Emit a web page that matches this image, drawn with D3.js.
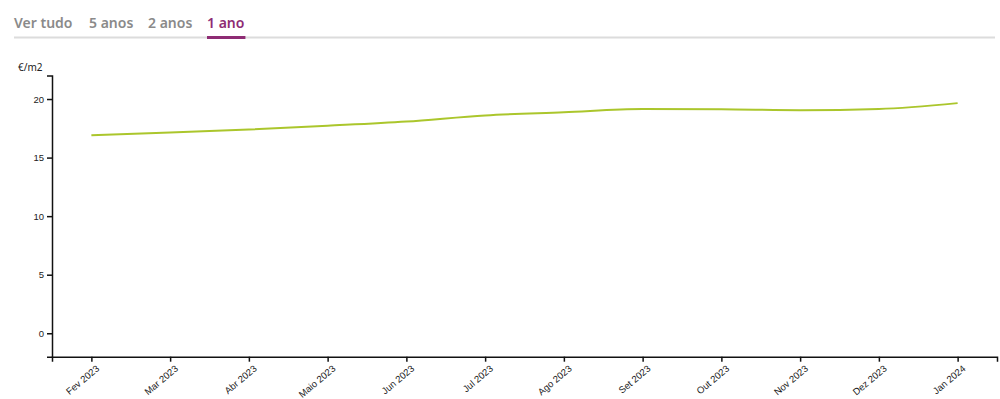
<!DOCTYPE html>
<html>
<head>
<meta charset="utf-8">
<script src="https://cdn.jsdelivr.net/npm/d3@7"></script>
<style>
  body { margin: 0; background: #fff; font-family: "Noto Sans", "Open Sans", sans-serif; }
  .tab { font-weight: 600; font-size: 14px; fill: #8a8a8a; }
  .tab.active { fill: #8e2c74; }
  .axis text { font-size: 9.5px; fill: #222; }
  .axis path, .axis line { stroke: #111; stroke-width: 1.5; }
</style>
</head>
<body>
<div id="chart"></div>
<script>
var tabs = ["Ver tudo", "5 anos", "2 anos", "1 ano"]
var months = ["Fev 2023", "Mar 2023", "Abr 2023", "Maio 2023", "Jun 2023", "Jul 2023",
  "Ago 2023", "Set 2023", "Out 2023", "Nov 2023", "Dez 2023", "Jan 2024"]
var prices = [16.9, 17.15, 17.4, 17.72, 18.08, 18.6, 18.87, 19.14, 19.12, 19.05, 19.15, 19.65]
var yTicks = [0, 5, 10, 15, 20]

var width = 1000
var height = 399

var svg = d3.select("#chart").append("svg")
  .attr("width", width)
  .attr("height", height)

// tabs at the top
var tabX = [14, 89, 148, 207]
var tabG = svg.append("g")
svg.append("line")
  .attr("x1", 14).attr("x2", 995)
  .attr("y1", 37.5).attr("y2", 37.5)
  .attr("stroke", "#dcdcdc").attr("stroke-width", 2)
tabs.forEach(function(t, i) {
  var txt = tabG.append("text")
    .attr("class", i == 3 ? "tab active" : "tab")
    .attr("x", tabX[i]).attr("y", 28)
    .text(t)
  if (i == 3) {
    var w = txt.node().getComputedTextLength()
    svg.append("line")
      .attr("x1", tabX[i]).attr("x2", tabX[i] + w + 1)
      .attr("y1", 37.5).attr("y2", 37.5)
      .attr("stroke", "#8e2c74").attr("stroke-width", 3)
  }
})

var x = d3.scalePoint()
  .domain(months)
  .range([52, 997])
  .padding(0.5)

var y = d3.scaleLinear()
  .domain([-2, 22])
  .range([356.7, 75.6])

svg.append("g")
  .attr("class", "axis")
  .attr("transform", "translate(0," + y(-2) + ")")
  .call(d3.axisBottom(x).tickSize(5).tickSizeOuter(5))
  .selectAll("text")
  .attr("text-anchor", "end")
  .attr("dx", "3px")
  .attr("dy", "9px")
  .attr("transform", function() {
    return "rotate(-40," + 0 + "," + 8 + ")"
  })

svg.append("g")
  .attr("class", "axis")
  .attr("transform", "translate(52,0)")
  .call(d3.axisLeft(y).tickValues(yTicks).tickSize(5).tickSizeOuter(5))

svg.append("text")
  .attr("x", 18).attr("y", 71)
  .attr("font-size", "10px")
  .attr("fill", "#222")
  .text("€/m2")

var line = d3.line()
  .x(function(d, i) { return x(months[i]) })
  .y(function(d) { return y(d) })
  .curve(d3.curveMonotoneX)

svg.append("path")
  .datum(prices)
  .attr("fill", "none")
  .attr("stroke", "#abc62c")
  .attr("stroke-width", 2)
  .attr("d", line)
</script>
</body>
</html>
